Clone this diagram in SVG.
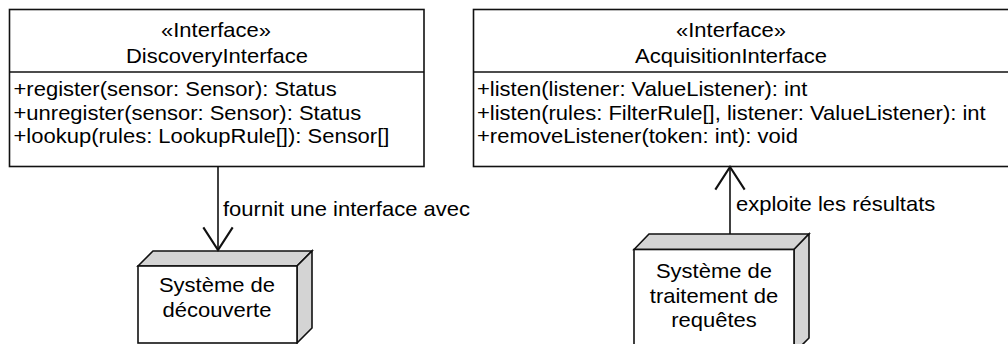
<svg xmlns="http://www.w3.org/2000/svg" width="1008" height="344" viewBox="0 0 1008 344">
  <defs>
    <style>
      .box { fill: #ffffff; stroke: #111111; stroke-width: 1.6; }
      .div { stroke: #111111; stroke-width: 1.6; }
      .face { fill: #d4d4d4; stroke: #111111; stroke-width: 1.6; stroke-linejoin: miter; }
      .t { font-family: "Liberation Sans", Arial, sans-serif; font-size: 20px; fill: #000000; }
      .c { text-anchor: middle; }
      .conn { stroke: #111111; stroke-width: 1.6; fill: none; }
    </style>
    <marker id="open" markerUnits="userSpaceOnUse" orient="auto" refX="0" refY="0" markerWidth="40" markerHeight="40" viewBox="-20 -15 25 30" overflow="visible">
      <path d="M-17,-11 L0,0 L-17,11" fill="none" stroke="#111111" stroke-width="1.6"/>
    </marker>
  </defs>

  <g id="DiscoveryInterface">
    <rect class="box" x="9.5" y="9.5" width="414.5" height="157"/>
    <line class="div" x1="9.5" y1="72" x2="424" y2="72"/>
    <text class="t c" transform="translate(216,37) scale(1.1,1)">«Interface»</text>
    <text class="t c" transform="translate(217,63) scale(1.1,1)">DiscoveryInterface</text>
    <text class="t" transform="translate(13.5,96) scale(1.1,1)">+register(sensor: Sensor): Status</text>
    <text class="t" transform="translate(13.5,119.5) scale(1.1,1)">+unregister(sensor: Sensor): Status</text>
    <text class="t" transform="translate(13.5,143) scale(1.1,1)">+lookup(rules: LookupRule[]): Sensor[]</text>
  </g>

  <g id="AcquisitionInterface">
    <rect class="box" x="473.5" y="9.5" width="545" height="157"/>
    <line class="div" x1="473.5" y1="72" x2="1018" y2="72"/>
    <text class="t c" transform="translate(731,37) scale(1.1,1)">«Interface»</text>
    <text class="t c" transform="translate(731,63) scale(1.1,1)">AcquisitionInterface</text>
    <text class="t" transform="translate(477,96) scale(1.1,1)">+listen(listener: ValueListener): int</text>
    <text class="t" transform="translate(477,119.5) scale(1.1,1)">+listen(rules: FilterRule[], listener: ValueListener): int</text>
    <text class="t" transform="translate(477,143) scale(1.1,1)">+removeListener(token: int): void</text>
  </g>

  <g id="SystemeDecouverte">
    <polygon class="face" points="138,266 153,251 312,251 297,266"/>
    <polygon class="face" points="297,266 312,251 312,328 297,343"/>
    <rect class="box" x="138" y="266" width="159" height="77"/>
    <text class="t c" transform="translate(217,292) scale(1.1,1)">Système de</text>
    <text class="t c" transform="translate(217,317) scale(1.1,1)">découverte</text>
  </g>

  <g id="SystemeTraitement">
    <polygon class="face" points="634,249.5 649,234 809,234 794,249.5"/>
    <polygon class="face" points="794,249.5 809,234 809,338 794,353"/>
    <rect class="box" x="634" y="249.5" width="160" height="104"/>
    <text class="t c" transform="translate(714,278) scale(1.1,1)">Système de</text>
    <text class="t c" transform="translate(714,302.5) scale(1.1,1)">traitement de</text>
    <text class="t c" transform="translate(714,327) scale(1.1,1)">requêtes</text>
  </g>

  <g id="connectors">
    <line class="conn" x1="218" y1="166.5" x2="218" y2="250" marker-end="url(#open)"/>
    <text class="t" transform="translate(223,216) scale(1.1,1)">fournit une interface avec</text>
    <line class="conn" x1="730" y1="234" x2="730" y2="167" marker-end="url(#open)"/>
    <text class="t" transform="translate(736,211) scale(1.1,1)">exploite les résultats</text>
  </g>
</svg>
